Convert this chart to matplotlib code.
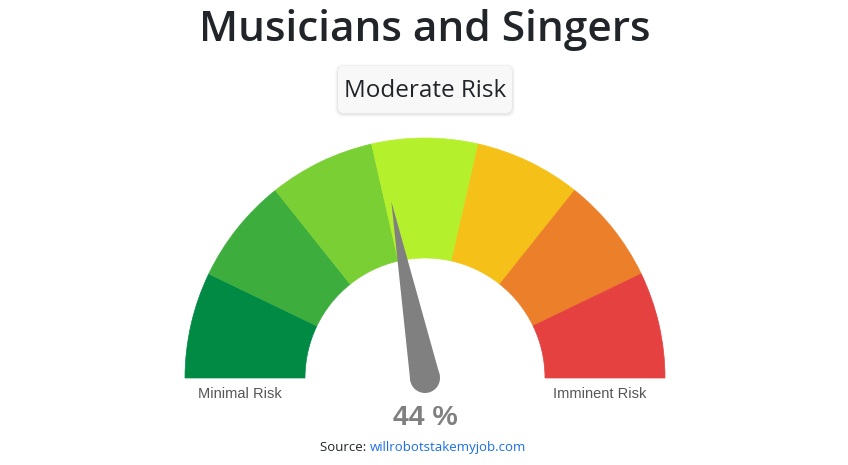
import matplotlib
matplotlib.use("Agg")
import matplotlib.pyplot as plt
import numpy as np
from matplotlib.patches import Wedge, Polygon, Circle, FancyBboxPatch

# ---- data ----
segments = ["1", "2", "3", "4", "5", "6", "7"]
segment_colors = ["#008a44", "#3dad3e", "#7acf34", "#b5f02d", "#f5c118", "#ec7f2a", "#e54141"]
risk_value = 44  # percent
title = "Musicians and Singers"
risk_label = "Moderate Risk"
left_label = "Minimal Risk"
right_label = "Imminent Risk"

W, H = 848, 465
fig = plt.figure(figsize=(W / 100, H / 100), dpi=100)
ax = fig.add_axes([0, 0, 1, 1])
ax.set_xlim(0, W)
ax.set_ylim(0, H)
ax.axis("off")

font = "Open Sans"
cx, cy = 425, H - 378
R_out, R_in = 240, 120

n = len(segments)
for i, col in enumerate(segment_colors):
    t1 = 180 - (i + 1) * 180 / n
    t2 = 180 - i * 180 / n
    ax.add_patch(Wedge((cx, cy), R_out, t1, t2, width=R_out - R_in,
                       facecolor=col, edgecolor=col, linewidth=0.5))

# needle
ang = np.deg2rad(180 - risk_value / 100 * 180)
L = 180
rb = 15
tip = (cx + L * np.cos(ang), cy + L * np.sin(ang))
perp = ang + np.pi / 2
b1 = (cx + rb * np.cos(perp), cy + rb * np.sin(perp))
b2 = (cx - rb * np.cos(perp), cy - rb * np.sin(perp))
ax.add_patch(Polygon([tip, b1, b2], closed=True, facecolor="#808080", edgecolor="none"))
ax.add_patch(Circle((cx, cy), rb, facecolor="#808080", edgecolor="none"))

# texts
ax.text(cx, H - 30, title, ha="center", va="center", fontsize=30.5,
        fontweight="semibold", color="#212529", family=font)
# box with soft shadow
for k, a in enumerate([0.025, 0.03, 0.035]):
    g = 3 - k
    ax.add_patch(FancyBboxPatch((338 - g, H - 113 - g - 1), 174 + 2 * g, 47 + 2 * g,
                                boxstyle="round,pad=0,rounding_size=8",
                                facecolor="#000000", alpha=a, edgecolor="none"))
ax.add_patch(FancyBboxPatch((338, H - 113), 174, 47, boxstyle="round,pad=0,rounding_size=6",
                            facecolor="#f8f8f8", edgecolor="none"))
ax.text(cx, H - 91, risk_label, ha="center", va="center", fontsize=17.5,
        color="#212529", family=font)
ax.text(240, H - 394, left_label, ha="center", va="center", fontsize=10.5,
        color="#555555", family="Liberation Sans")
ax.text(600, H - 394, right_label, ha="center", va="center", fontsize=10.5,
        color="#555555", family="Liberation Sans")
ax.text(cx, H - 418, f"{risk_value} %", ha="center", va="center", fontsize=20.5,
        fontweight="bold", color="#808080", family="Liberation Sans")
ax.text(370, H - 447, "Source: ", ha="right", va="center", fontsize=9.5,
        color="#212529", family=font)
ax.text(370, H - 447, "willrobotstakemyjob.com", ha="left", va="center", fontsize=9.5,
        color="#1a6ee8", family=font)

fig.savefig("out.png", dpi=100)
